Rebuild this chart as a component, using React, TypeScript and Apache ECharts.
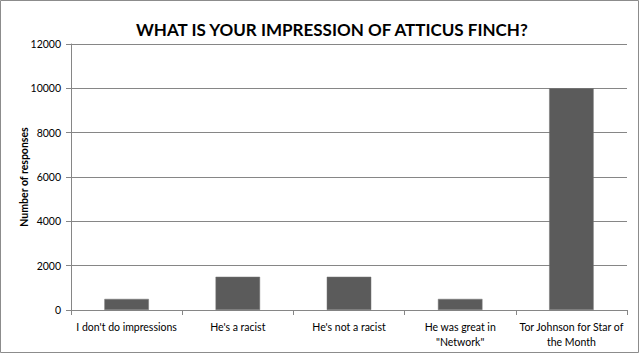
import React, { useEffect, useRef } from "react";
import * as echarts from "echarts";

const categories = [
  "I don't do impressions",
  "He's a racist",
  "He's not a racist",
  "He was great in\n\"Network\"",
  "Tor Johnson for Star of\nthe Month",
];
const responses = [500, 1500, 1500, 500, 10000];
const titleText = "WHAT IS YOUR IMPRESSION OF ATTICUS FINCH?";
const yAxisName = "Number of responses";

export default function App() {
  const ref = useRef<HTMLDivElement>(null);
  useEffect(() => {
    document.body.style.margin = "0";
    const chart = echarts.init(ref.current!, null, { renderer: "svg" });
    const font = "Lato, 'Open Sans', sans-serif";
    chart.setOption({
      animation: false,
      backgroundColor: "#ffffff",
      title: {
        text: titleText,
        left: 131,
        top: 16,
        textStyle: { fontFamily: font, fontSize: 17, fontWeight: "bold", color: "#000" },
      },
      graphic: [
        {
          type: "rect",
          shape: { x: 0.5, y: 0.5, width: 638, height: 352 },
          style: { fill: "none", stroke: "#8c8c8c", lineWidth: 1 },
          silent: true,
        },
      ],
      grid: { left: 71, right: 13, top: 44, bottom: 44 },
      xAxis: {
        type: "category",
        data: categories,
        axisLine: { lineStyle: { color: "#868686" } },
        axisTick: { show: true, length: 5, lineStyle: { color: "#868686" } },
        axisLabel: {
          fontFamily: font,
          fontSize: 10.5,
          color: "#000",
          margin: 9,
          lineHeight: 15,
          interval: 0,
        },
      },
      yAxis: {
        type: "value",
        min: 0,
        max: 12000,
        interval: 2000,
        name: yAxisName,
        nameLocation: "middle",
        nameGap: 42,
        nameMoveOverlap: false,
        nameTextStyle: { fontFamily: font, fontSize: 10.5, fontWeight: "bold", color: "#000" },
        axisLine: { show: true, lineStyle: { color: "#868686" } },
        axisTick: { show: true, length: 5, lineStyle: { color: "#868686" } },
        splitLine: { lineStyle: { color: "#868686" } },
        axisLabel: {
          fontFamily: font,
          fontSize: 10.5,
          color: "#000",
          margin: 10,
          formatter: (v: number) => String(v),
        },
      },
      series: [
        {
          type: "bar",
          data: responses,
          barWidth: "40%",
          itemStyle: { color: "#5b5b5b", borderColor: "#777", borderWidth: 0.5 },
        },
      ],
    });
    return () => chart.dispose();
  }, []);
  return <div ref={ref} style={{ width: 640, height: 354 }} />;
}
